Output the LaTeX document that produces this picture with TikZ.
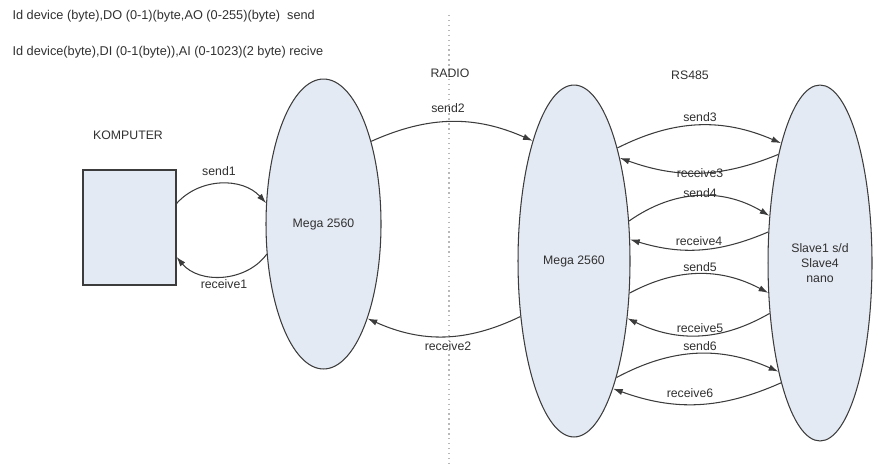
\documentclass[tikz,border=0pt]{standalone}
\usepackage{fontspec}
\setmainfont{Liberation Sans}
\usetikzlibrary{arrows.meta, shapes.geometric}
\definecolor{boardfill}{HTML}{E4EAF4}
\definecolor{edgegray}{HTML}{3C3C3C}
\definecolor{txtgray}{HTML}{303030}
\definecolor{radiogray}{HTML}{B8B8B8}

\begin{document}
\begin{tikzpicture}[x=0.02cm, y=0.02cm, >={Latex[length=5.5pt, width=3.6pt]}, line width=0.6pt,
  lbl/.style={font=\fontsize{7}{8.5}\selectfont, text=txtgray, inner sep=0pt},
  board/.style={ellipse, draw=edgegray, fill=boardfill, inner sep=0pt, align=center,
    font=\fontsize{7}{8.5}\selectfont, text=txtgray},
  link/.style={->, draw=edgegray, line width=0.6pt}]

% Canvas: 874 x 466 px, y runs downward as negative
\useasboundingbox (0,0) rectangle (874,-466);

% Header lines
\node[lbl, anchor=west, font=\fontsize{7.25}{8.5}\selectfont] (hdrsend) at (12,-16)
  {Id device (byte),DO (0-1)(byte,AO (0-255)(byte)\ \ send};
\node[lbl, anchor=west, font=\fontsize{7.25}{8.5}\selectfont] (hdrrecv) at (12,-52)
  {Id device(byte),DI (0-1(byte)),AI (0-1023)(2 byte) recive};

% Radio border (dotted)
\draw[radiogray, dotted, line width=0.8pt] (449,-15) -- (449,-466);
\node[lbl] (radio) at (450,-73) {RADIO};
\node[lbl] (rs485) at (690,-75) {RS485};

% ================================================================
% Nodes
% ================================================================
\node[lbl] (komputerlbl) at (128,-135) {KOMPUTER};
\node[draw=edgegray, fill=boardfill, minimum width=1.86cm, minimum height=2.3cm,
  inner sep=0pt] (komputer) at (129.5,-227.5) {};

\node[board, minimum width=2.3cm, minimum height=5.8cm] (mL) at (323.5,-224) {Mega 2560};
\node[board, minimum width=2.24cm, minimum height=7.04cm] (mR) at (574,-261) {Mega 2560};
\node[board, minimum width=2.08cm, minimum height=7.12cm] (sL) at (820,-263)
  {Slave1 s/d\\Slave4\\nano};

% ================================================================
% Komputer <-> Mega (serial)
% ================================================================
\draw[link] (komputer.27) to[bend left=48] (mL.160);
\draw[link] (mL.208) to[bend left=52] (komputer.-32);
\node[lbl] (send1) at (219,-171) {send1};
\node[lbl] (receive1) at (224,-284) {receive1};

% Mega <-> Mega (radio)
\draw[link] (mL.60) to[bend left=24] (mR.109);
\draw[link] (mR.226) to[bend left=25] (mL.295);
\node[lbl] (send2) at (448,-108) {send2};
\node[lbl] (receive2) at (448,-346) {receive2};

% Mega <-> slaves (RS485)
\foreach \i/\sa/\sb/\sbend/\ra/\rb/\rbend/\sy/\rx/\ry in {
  3/69/108/25/111/66/21/117/700/173,
  4/36/137/33/149/21/20/193/699/241,
  5/330/210/28/225/313/28/267/700/328,
  6/290/249/26/252/287/22/346/690/393} {
  \draw[link] (mR.\sa) to[bend left=\sbend] (sL.\sb);
  \draw[link] (sL.\ra) to[bend left=\rbend] (mR.\rb);
  \node[lbl] (send\i) at (700,-\sy) {send\i};
  \node[lbl] (receive\i) at (\rx,-\ry) {receive\i};
}

\end{tikzpicture}
\end{document}
